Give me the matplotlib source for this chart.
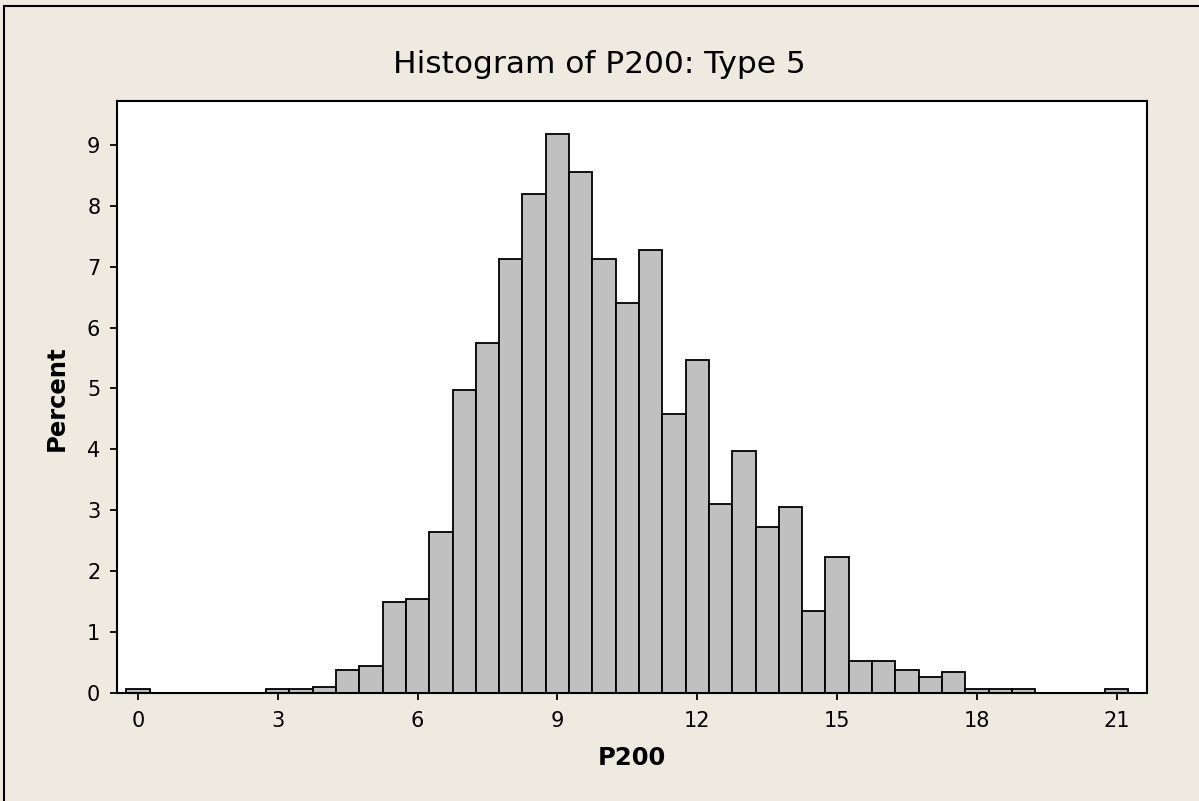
import numpy as np
import matplotlib.pyplot as plt

# bin midpoints (width 0.5) and percent per bin
midpoints = [0, 3, 3.5, 4, 4.5, 5, 5.5, 6, 6.5, 7, 7.5, 8, 8.5, 9, 9.5, 10,
             10.5, 11, 11.5, 12, 12.5, 13, 13.5, 14, 14.5, 15, 15.5, 16,
             16.5, 17, 17.5, 18, 18.5, 19, 21]
percent = [0.07, 0.07, 0.07, 0.10, 0.38, 0.45, 1.50, 1.55, 2.65, 4.97, 5.75,
           7.12, 8.20, 9.17, 8.55, 7.12, 6.40, 7.28, 4.58, 5.47, 3.10, 3.98,
           2.72, 3.06, 1.35, 2.23, 0.52, 0.52, 0.38, 0.27, 0.35, 0.07, 0.07,
           0.07, 0.07]
x_ticks = [0, 3, 6, 9, 12, 15, 18, 21]
y_ticks = list(range(0, 10))

W, H = 1199, 801
bg = '#EEEAE0'
plt.rcParams['font.family'] = ['DejaVu Sans']

fig = plt.figure(figsize=(W / 100, H / 100), dpi=100, facecolor=bg)
ax = fig.add_axes([117 / W, 1 - 693 / H, (1147 - 117) / W, (693 - 101) / H])

ax.bar(midpoints, percent, width=0.5, color='#C0C0C0', edgecolor='black',
       linewidth=1.3, align='center')

ax.set_xlim(-0.45, 21.65)
ax.set_ylim(0, 9.72)
ax.set_xticks(x_ticks)
ax.set_yticks(y_ticks)
ax.tick_params(direction='out', length=5, width=1.3, labelsize=15, color='black')
ax.tick_params(axis='x', pad=8)
ax.tick_params(axis='y', pad=7)
for s in ax.spines.values():
    s.set_linewidth(1.5)

# title centred on the whole figure, axis labels as in the original
fig.text(0.5, 1 - 73 / H, 'Histogram of P200: Type 5', fontsize=22.5,
         ha='center', va='baseline')
fig.text(632 / W, 1 - 765 / H, 'P200', fontsize=17.5, fontweight='bold',
         ha='center', va='baseline')
fig.text(56.6 / W, 1 - 398 / H, 'Percent', fontsize=17.5, fontweight='bold',
         rotation=90, ha='center', va='center')

# outer frame lines on left and top of the picture
fig.add_artist(plt.Line2D([4 / W, 4 / W], [0, 1 - 6 / H], color='black', lw=1.5))
fig.add_artist(plt.Line2D([4 / W, 1], [1 - 6 / H, 1 - 6 / H], color='black', lw=1.5))

fig.savefig('out.png', dpi=100, facecolor=bg)
